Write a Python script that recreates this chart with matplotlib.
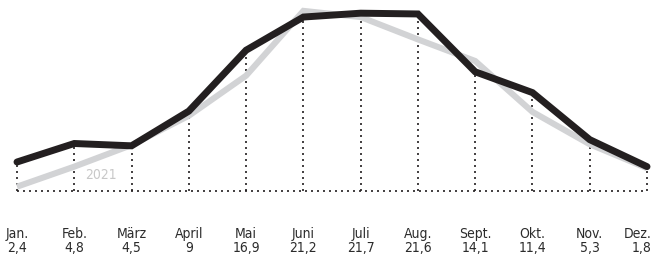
import matplotlib
matplotlib.use("Agg")
import matplotlib.pyplot as plt
import matplotlib.transforms as mtransforms

# ========= DATA =========
MONTHS = ["Jan.", "Feb.", "März", "April", "Mai", "Juni",
          "Juli", "Aug.", "Sept.", "Okt.", "Nov.", "Dez."]
VALUES_2022 = [2.4, 4.8, 4.5, 9, 16.9, 21.2, 21.7, 21.6, 14.1, 11.4, 5.3, 1.8]
VALUES_2021 = [-0.8, 1.8, 4.6, 8.4, 13.6, 22.0, 21.2, 18.3, 15.5, 8.9, 4.7, 1.6]
VALUE_LABELS = ["2,4", "4,8", "4,5", "9", "16,9", "21,2",
                "21,7", "21,6", "14,1", "11,4", "5,3", "1,8"]
LABEL_2021 = "2021"
# ========================

BLACK = "#231f20"
GREY = "#d2d3d5"
BASE = -1.36  # dotted base line level

plt.rcParams["font.family"] = ["DejaVu Sans"]
FONT = dict(fontsize=10, fontstretch="condensed", color="#2b2b2b")

fig = plt.figure(figsize=(6.52, 2.55), dpi=100)
ax = fig.add_axes([0, 0, 1, 1])
ax.set_xlim(-0.297, 11.087)
ax.set_ylim(-9.53, 23.54)
ax.axis("off")

x = list(range(len(MONTHS)))

# dotted guides
dots = dict(color=BLACK, linewidth=1.2, linestyle=(0, (1.2, 2.4)), zorder=1)
ax.plot([x[0], x[-1]], [BASE, BASE], **dots)
for xi, v in zip(x, VALUES_2022):
    ax.plot([xi, xi], [BASE, v], **dots)

ax.plot(x, VALUES_2021, color=GREY, linewidth=4.4,
        solid_capstyle="butt", solid_joinstyle="miter", zorder=2)
ax.plot(x, VALUES_2022, color=BLACK, linewidth=5.0,
        solid_capstyle="round", solid_joinstyle="miter", zorder=3)

ax.text(1.47, 0.8, LABEL_2021, ha="center", va="center", zorder=4,
        fontsize=10, fontstretch="condensed", color="#c8c8c8")

trans = mtransforms.blended_transform_factory(ax.transData, ax.transAxes)
for xi, m, lab in zip(x, MONTHS, VALUE_LABELS):
    ha = "center"
    xpos = xi
    if xi == x[-1]:
        ha = "right"
        xpos = ax.get_xlim()[1]
    ax.text(xpos, 0.067, m, transform=trans, ha=ha, va="baseline", **FONT)
    ax.text(xpos, 0.01, lab, transform=trans, ha=ha, va="baseline", **FONT)

fig.savefig("out.png", dpi=100)
